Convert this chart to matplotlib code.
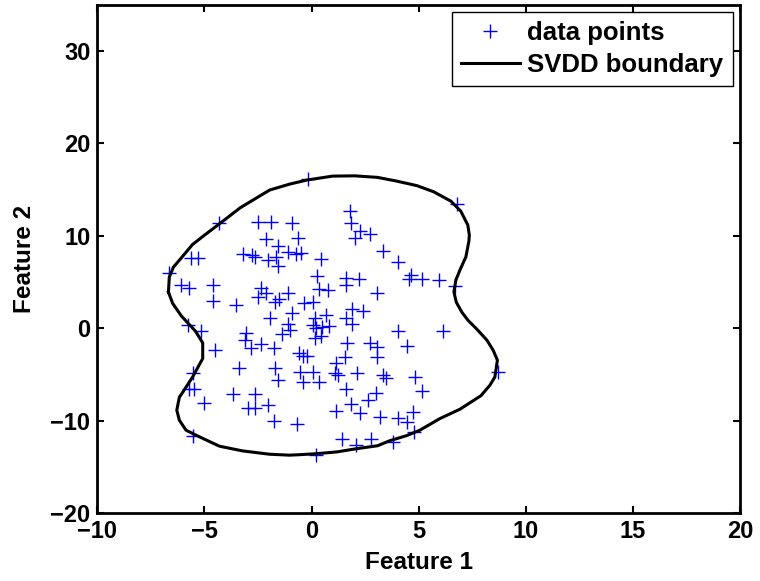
import matplotlib
matplotlib.use("Agg")
import matplotlib.pyplot as plt
import numpy as np

plt.rcParams['font.family'] = ['Liberation Sans', 'DejaVu Sans']
plt.rcParams['font.weight'] = 'bold'

# data points
pts_x = [-0.17, -4.32, -2.51, -1.88, -2.15, -0.90, -0.65, -1.57, -5.62, -5.31,
         -3.21, -2.76, -2.64, -2.04, -1.68, -1.59, -1.11, -0.71, -0.48, 0.45,
         1.78, 1.86, 2.24, 2.01, 2.71, 3.33, 4.04, 4.66, 4.55, 5.13,
         5.95, 6.68, 6.79, -6.64, -6.09, -5.70, -4.58, -2.35, -4.61, -3.53,
         -2.51, -2.12, -1.73, -1.50, -1.11, 0.27, 1.62, 2.21, 1.59, 0.34,
         0.76, 3.05, -0.37, 0.06, 1.90, -0.90, 0.69, 1.59, 0.14, -1.96,
         -1.11, 0.06, 0.81, 1.90, -1.00, 0.19, -5.75, -5.15, -4.53, -3.08,
         -3.13, -2.82, -2.35, -1.76, -3.40, -1.73, -1.59, -5.55, -5.70, -5.50,
         -5.03, -3.68, -2.66, -2.98, -2.62, -2.04, -1.76, -5.55, 0.42, 0.14,
         1.65, 2.71, 3.05, 3.05, -0.59, -0.41, -0.22, 1.54, 1.15, -0.53,
         0.06, -0.41, 0.34, 1.07, 1.23, 2.12, 3.35, 3.48, 1.62, 2.99,
         2.63, 1.82, 1.15, 2.28, 3.20, -0.67, 1.43, 2.06, 2.79, 0.22,
         4.03, 6.11, 4.47, 4.81, 5.17, 8.71, 4.73, 4.03, 4.43, 4.78,
         3.80, 0.50, -1.40, 2.40]
pts_y = [16.13, 11.36, 11.50, 11.50, 9.69, 11.33, 9.71, 8.93, 7.61, 7.61,
         8.01, 7.95, 7.68, 7.36, 7.68, 6.76, 8.19, 8.04, 8.08, 7.44,
         12.69, 11.40, 10.50, 9.74, 10.14, 8.33, 7.11, 5.79, 5.30, 5.30,
         5.19, 4.58, 13.42, 5.92, 4.65, 4.30, 4.65, 4.38, 2.98, 2.54,
         3.41, 3.79, 2.81, 3.19, 3.76, 5.63, 5.38, 5.30, 4.65, 4.19,
         4.11, 3.82, 2.67, 2.85, 2.02, 1.59, 1.41, 1.05, 1.11, 1.14,
         0.47, 0.38, 0.18, 0.47, -0.22, -0.03, 0.32, -0.27, -2.38, -0.57,
         -1.30, -2.20, -1.66, -2.20, -4.36, -4.36, -5.63, -4.90, -6.53, -6.63,
         -8.08, -7.07, -7.07, -8.69, -8.69, -8.33, -10.03, -11.69, -0.87, -1.11,
         -1.59, -1.59, -2.02, -3.17, -2.74, -3.03, -3.03, -3.11, -3.82, -4.73,
         -4.73, -5.81, -5.81, -4.90, -5.09, -4.84, -5.05, -5.44, -6.53, -7.00,
         -7.79, -8.23, -8.95, -9.17, -9.60, -10.39, -11.94, -12.66, -12.01, -13.74,
         -0.32, -0.32, -1.92, -5.27, -6.79, -4.73, -9.06, -9.77, -10.14, -11.22,
         -12.31, 0.10, -0.60, 1.90]

# SVDD boundary contour
bnd_x = [-6.68, -6.64, -6.45, -6.07, -5.56, -5.00, -4.44, -3.32, -1.96, -1.03,
         -0.23, 0.98, 2.01, 3.08, 3.97, 4.91, 5.70, 6.50, 6.96, 7.29,
         7.36, 7.34, 7.20, 6.92, 6.73, 6.64, 6.75, 7.01, 7.29, 7.71,
         8.18, 8.47, 8.67, 8.55, 8.32, 7.90, 6.92, 5.98, 5.05, 4.43,
         3.64, 3.08, 2.10, 1.17, 0.23, -0.56, -1.03, -1.96, -3.22, -4.30,
         -5.23, -5.86, -6.17, -6.29, -6.17, -6.00, -5.55, -5.08, -5.08, -5.42,
         -6.07, -6.48, -6.68]
bnd_y = [3.90, 5.52, 6.60, 7.63, 9.04, 10.06, 11.04, 13.04, 14.94, 15.58,
         16.02, 16.45, 16.48, 16.31, 15.91, 15.42, 14.75, 13.74, 12.66, 11.15,
         10.06, 9.42, 7.72, 6.28, 5.19, 3.93, 2.81, 1.73, 0.87, -0.11,
         -1.30, -2.38, -3.46, -5.30, -6.17, -7.31, -8.77, -9.79, -11.04, -11.63,
         -12.18, -12.72, -13.04, -13.39, -13.58, -13.69, -13.74, -13.64, -13.28, -12.77,
         -11.76, -11.04, -9.96, -8.87, -7.47, -6.89, -5.27, -3.28, -1.59, -0.32,
         1.30, 2.67, 3.90]

fig = plt.figure(figsize=(7.6, 5.81), dpi=100)
ax = fig.add_axes([0.128, 0.117, 0.846, 0.875])

ax.plot(pts_x, pts_y, '+', color='blue', markersize=10, mew=1.0, label='data points')
ax.plot(bnd_x, bnd_y, '-', color='black', linewidth=2.2, label='SVDD boundary')

ax.set_xlim(-10, 20)
ax.set_ylim(-20, 35)
ax.set_xticks(np.arange(-10, 21, 5))
ax.set_yticks(np.arange(-20, 31, 10))
ax.tick_params(direction='in', top=True, right=True, labelsize=17, width=1.5, length=5)
ax.tick_params(axis='x', pad=5)
ax.tick_params(axis='y', pad=5)
for s in ax.spines.values():
    s.set_linewidth(2.0)

ax.set_xlabel('Feature 1', fontsize=17.5, fontweight='bold', labelpad=6)
ax.set_ylabel('Feature 2', fontsize=17.5, fontweight='bold', labelpad=10)

leg = ax.legend(loc='upper right', fontsize=18.5, handlelength=2.3, fancybox=False,
                framealpha=1, edgecolor='black', borderaxespad=0.3, borderpad=0.35,
                labelspacing=0.3, handletextpad=0.3)
leg.get_frame().set_linewidth(1.0)

fig.savefig('out.png', dpi=100)
